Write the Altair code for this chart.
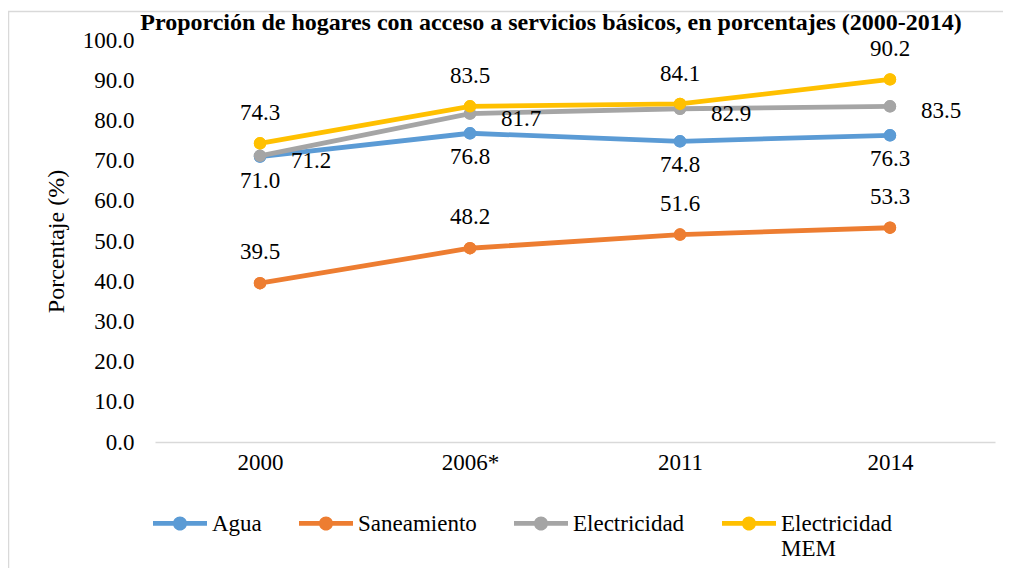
import altair as alt
import pandas as pd

years = ["2000", "2006*", "2011", "2014"]
agua = [71.0, 76.8, 74.8, 76.3]
saneamiento = [39.5, 48.2, 51.6, 53.3]
electricidad = [71.2, 81.7, 82.9, 83.5]
electricidad_mem = [74.3, 83.5, 84.1, 90.2]
series_names = ["Agua", "Saneamiento", "Electricidad", "Electricidad MEM"]
series_colors = ["#5B9BD5", "#ED7D31", "#A5A5A5", "#FFC000"]
y_ticks = [0, 10, 20, 30, 40, 50, 60, 70, 80, 90, 100]
title_text = "Proporción de hogares con acceso a servicios básicos, en porcentajes (2000-2014)"
y_title = "Porcentaje (%)"

rows = []
for name, vals in zip(series_names, [agua, saneamiento, electricidad, electricidad_mem]):
    for yr, v in zip(years, vals):
        rows.append({"Anio": yr, "Serie": name, "Valor": v})
df = pd.DataFrame(rows)

FONT = "Liberation Serif"

sym_path = ("M-1,-0.37 L1,-0.37 L1,-0.19 L-1,-0.19 Z "
            "M0.26,-0.28 A0.26,0.26 0 1 1 -0.26,-0.28 A0.26,0.26 0 1 1 0.26,-0.28 Z")

legend = alt.Legend(
    title=None, orient="none", legendX=-2, legendY=464, direction="horizontal",
    columns=4, symbolType=sym_path, symbolSize=2916, symbolStrokeWidth=0,
    symbolOpacity=1, labelFont=FONT, labelFontSize=23, labelColor="black",
    labelOffset=5, columnPadding=37, labelBaseline="alphabetic", labelLimit=0,
    labelExpr="datum.label == 'Electricidad MEM' ? ['Electricidad', 'MEM'] : [datum.label, '']",
    padding=0,
)

x_enc = alt.X(
    "Anio:N", sort=years,
    scale=alt.Scale(type="point", padding=0.5),
    axis=alt.Axis(title=None, labelAngle=0, ticks=False, grid=False,
                  domainColor="#D9D9D9", domainWidth=1.5, labelPadding=9),
)
y_enc = alt.Y(
    "Valor:Q",
    scale=alt.Scale(domain=[0, 100], nice=False),
    axis=alt.Axis(values=y_ticks, format=".1f", title=y_title, ticks=False,
                  domain=False, grid=False, labelPadding=21, titlePadding=14),
)
color_enc = alt.Color(
    "Serie:N",
    scale=alt.Scale(domain=series_names, range=series_colors),
    legend=legend,
)

base = alt.Chart(df)

frame = alt.Chart(pd.DataFrame({"a": [0]})).mark_rect(
    fill="white", fillOpacity=0, stroke="#D9D9D9", strokeWidth=1.5
).encode(
    x=alt.value(-146.5), x2=alt.value(900), y=alt.value(-28.5), y2=alt.value(700)
)

title = alt.Chart(pd.DataFrame({"a": [0]})).mark_text(
    font=FONT, fontSize=24, fontWeight="bold", align="center",
    baseline="alphabetic", color="black"
).encode(x=alt.value(396), y=alt.value(-10), text=alt.value(title_text))

legend_points = base.mark_circle(size=154, opacity=1).encode(
    x=x_enc, y=y_enc, color=color_enc
)

layers = [frame, title, legend_points]
for name in series_names:
    sub = base.transform_filter(alt.datum.Serie == name)
    layers.append(sub.mark_line(strokeWidth=4.8).encode(x=x_enc, y=y_enc, color=color_enc))
    layers.append(sub.mark_circle(size=154, opacity=1).encode(x=x_enc, y=y_enc, color=color_enc))

label_cfg = {
    "Agua": dict(dy=24, dx=0, align="center"),
    "Saneamiento": dict(dy=-31, dx=0, align="center"),
    "Electricidad": dict(dy=5, dx=31, align="left"),
    "Electricidad MEM": dict(dy=-30, dx=0, align="center"),
}
for name in series_names:
    c = label_cfg[name]
    layers.append(
        base.transform_filter(alt.datum.Serie == name).mark_text(
            font=FONT, fontSize=23, color="black", baseline="middle",
            align=c["align"], dx=c["dx"], dy=c["dy"]
        ).encode(x=x_enc, y=y_enc, text=alt.Text("Valor:Q", format=".1f"))
    )

chart = alt.layer(*layers).properties(
    width=840, height=402,
    autosize=alt.AutoSizeParams(type="none"),
    padding={"left": 147, "top": 32, "right": 8, "bottom": 126},
).configure_view(stroke=None).configure_axis(
    labelFont=FONT, labelFontSize=23, labelColor="black",
    titleFont=FONT, titleFontSize=24, titleColor="black", titleFontWeight="normal",
)

chart.save("out.html", embed_options={"renderer": "svg", "actions": False})
